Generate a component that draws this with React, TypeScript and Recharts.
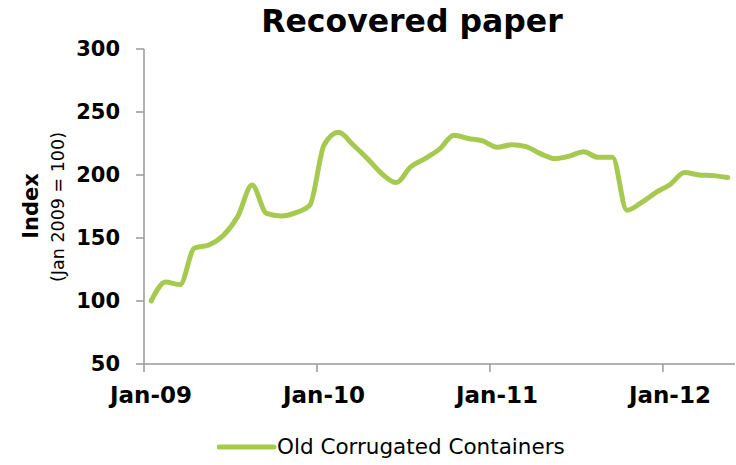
import React from 'react';
import { LineChart, Line, XAxis, YAxis, Legend } from 'recharts';

// Monthly categories, Jan-09 .. May-12
const months = [
  'Jan-09', 'Feb-09', 'Mar-09', 'Apr-09', 'May-09', 'Jun-09', 'Jul-09', 'Aug-09', 'Sep-09', 'Oct-09', 'Nov-09', 'Dec-09',
  'Jan-10', 'Feb-10', 'Mar-10', 'Apr-10', 'May-10', 'Jun-10', 'Jul-10', 'Aug-10', 'Sep-10', 'Oct-10', 'Nov-10', 'Dec-10',
  'Jan-11', 'Feb-11', 'Mar-11', 'Apr-11', 'May-11', 'Jun-11', 'Jul-11', 'Aug-11', 'Sep-11', 'Oct-11', 'Nov-11', 'Dec-11',
  'Jan-12', 'Feb-12', 'Mar-12', 'Apr-12', 'May-12',
];

// Old Corrugated Containers index (Jan 2009 = 100)
const occIndex = [
  100, 115, 113, 142, 144.5, 152, 167, 192, 169.5, 167.5, 170, 176,
  224, 234, 224, 213, 201, 194, 206.5, 213, 220.5, 231.5, 229, 227,
  222, 224, 222.5, 217, 213, 215, 218.5, 214, 214, 172, 178, 186,
  192.5, 202, 200, 199.5, 198,
];

const yTicks = [50, 100, 150, 200, 250, 300];
// tick marks sit between categories, one per year
const xTicks = [-0.5, 11.5, 23.5, 35.5];

const data = months.map((m, i) => ({ i, month: m, v: occIndex[i] }));

const GREEN = '#a6c94f';
const AXIS = '#999';
const FONT = '"DejaVu Sans", sans-serif';

const YLabel = () => (
  <g fontFamily={FONT} fill="#000">
    <text x={31} y={206} transform="rotate(-90 31 206)" textAnchor="middle" dominantBaseline="central" fontSize={21} fontWeight="bold">
      Index
    </text>
    <text x={58} y={207} transform="rotate(-90 58 207)" textAnchor="middle" dominantBaseline="central" fontSize={17.5}>
      (Jan 2009 = 100)
    </text>
  </g>
);

const LegendContent = () => (
  <div style={{ display: 'flex', alignItems: 'center', fontFamily: FONT, fontSize: 21.5, color: '#000', whiteSpace: 'nowrap' }}>
    <svg width={60} height={10}>
      <line x1={2} y1={5} x2={57} y2={5} stroke={GREEN} strokeWidth={5} strokeLinecap="round" />
    </svg>
    <span>Old Corrugated Containers</span>
  </div>
);

export default function App() {
  return (
    <div style={{ position: 'absolute', left: 0, top: 0, width: 736, height: 465, background: '#fff' }}>
      <div
        style={{
          position: 'absolute', left: 212, top: 3, width: 400, textAlign: 'center',
          fontFamily: FONT, fontWeight: 'bold', fontSize: 31.5, color: '#000', whiteSpace: 'nowrap',
        }}
      >
        Recovered paper
      </div>
      <LineChart width={736} height={465} data={data} margin={{ top: 49, right: 1, bottom: 71, left: 0 }}>
        <XAxis
          dataKey="i"
          type="number"
          domain={[-0.5, 40.5]}
          ticks={xTicks}
          interval={0}
          tickFormatter={(v: number) => months[v + 0.5]}
          tick={{ fontSize: 23, fontWeight: 'bold', fill: '#000', fontFamily: FONT, dx: 7 }}
          tickSize={8}
          tickMargin={15}
          axisLine={{ stroke: AXIS, strokeWidth: 1.5 }}
          tickLine={{ stroke: AXIS, strokeWidth: 1.5 }}
        />
        <YAxis
          domain={[50, 300]}
          ticks={yTicks}
          interval={0}
          width={144}
          tick={{ fontSize: 21, fontWeight: 'bold', fill: '#000', fontFamily: FONT }}
          tickSize={8}
          tickMargin={16}
          axisLine={{ stroke: AXIS, strokeWidth: 1.5 }}
          tickLine={{ stroke: AXIS, strokeWidth: 1.5 }}
          label={{ content: () => <YLabel /> }}
        />
        <Legend
          verticalAlign="middle"
          layout="horizontal"
          wrapperStyle={{ left: 217, top: 434, width: 420 }}
          content={() => <LegendContent />}
        />
        <Line
          type="monotone"
          dataKey="v"
          name="Old Corrugated Containers"
          stroke={GREEN}
          strokeWidth={5}
          strokeLinecap="round"
          dot={false}
          isAnimationActive={false}
        />
      </LineChart>
    </div>
  );
}
